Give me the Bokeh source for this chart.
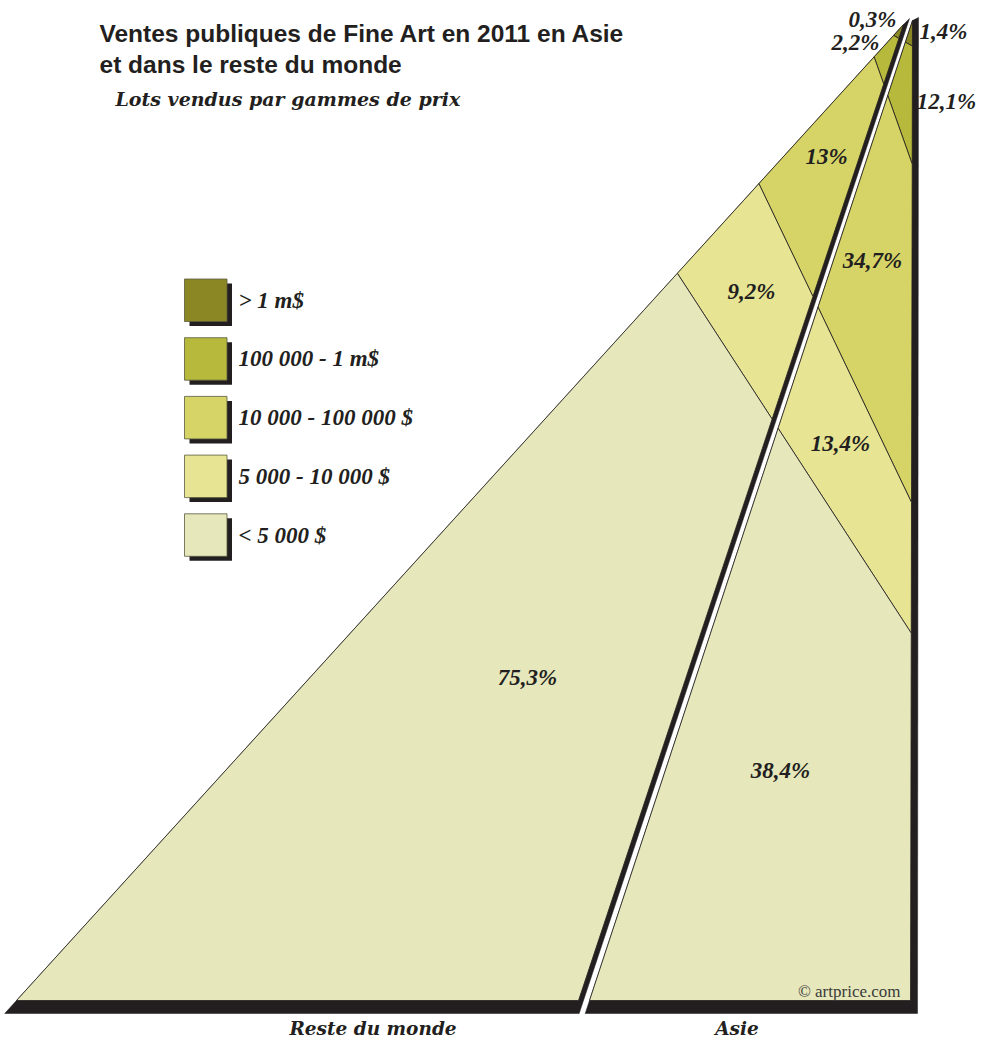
from bokeh.plotting import figure
from bokeh.models import Range1d, ColumnDataSource
from bokeh.core.properties import value
from bokeh.embed import file_html
from bokeh.resources import INLINE

# ---------------- data ----------------
categories = ["> 1 m$", "100 000 - 1 m$", "10 000 - 100 000 $", "5 000 - 10 000 $", "< 5 000 $"]
reste_du_monde = [0.3, 2.2, 13.0, 9.2, 75.3]   # % of lots sold
asie = [1.4, 12.1, 34.7, 13.4, 38.4]            # % of lots sold
group_names = ["Reste du monde", "Asie"]
title_lines = ["Ventes publiques de Fine Art en 2011 en Asie", "et dans le reste du monde"]
subtitle = "Lots vendus par gammes de prix"
credit = "\u00a9 artprice.com"

# ---------------- style / layout ----------------
colors = ["#8b8725", "#b6b93c", "#d6d466", "#e7e593", "#e6e8bc"]
INK = "#231f20"
W, H = 982, 1039
LEFT_TRI = [(16, 1000), (578, 1000), (903, 24)]     # bottom-left, bottom-right, apex
ASIA_TRI = [(589, 1000), (910, 1000), (912, 20)]
SCALE_TOP, SCALE_BOTTOM = 32, 1007                   # cumulative share 0..1 -> edge height
SHADOW_BOTTOM = 1013
RDM_LABEL_POS = [(872, 19), (855, 42), (826, 156), (751, 291), (527, 677)]
ASIE_LABEL_POS = [(943, 31), (946, 101), (872, 260), (840, 443), (780, 770)]
LEG_X, LEG_Y0, LEG_DY, LEG_SIZE = 184, 278.5, 58.7, 42.5


def x_on(p, q, y):
    return p[0] + (y - p[1]) * (q[0] - p[0]) / (q[1] - p[1])


def clip(poly, line, keep_below):
    (x1, y1), (x2, y2) = line

    def g(pt):
        ly = y1 + (pt[0] - x1) * (y2 - y1) / (x2 - x1)
        d = pt[1] - ly
        return d if keep_below else -d

    out = []
    n = len(poly)
    for i in range(n):
        a, b = poly[i], poly[(i + 1) % n]
        ga, gb = g(a), g(b)
        if ga >= 0:
            out.append(a)
        if (ga >= 0) != (gb >= 0):
            t = ga / (ga - gb)
            out.append((a[0] + t * (b[0] - a[0]), a[1] + t * (b[1] - a[1])))
    return out


def fmt(v):
    s = f"{v:.1f}".replace(".", ",")
    if s.endswith(",0"):
        s = s[:-2]
    return s + "%"


# divider lines: from the left edge of the "rest of world" triangle (its cumulative share)
# to the right edge of the "Asia" triangle (its cumulative share)
lbl, lbr, lap = LEFT_TRI
abl, abr, aap = ASIA_TRI
lines = []
for i in range(len(categories) - 1):
    cl = sum(reste_du_monde[: i + 1]) / 100.0
    ca = sum(asie[: i + 1]) / 100.0
    yl = SCALE_TOP + cl * (SCALE_BOTTOM - SCALE_TOP)
    ya = SCALE_TOP + ca * (SCALE_BOTTOM - SCALE_TOP)
    lines.append(((x_on(lap, lbl, yl), yl), (x_on(aap, abr, ya), ya)))


def regions(tri):
    polys = []
    for i in range(len(categories)):
        poly = list(tri)
        if i > 0:
            poly = clip(poly, lines[i - 1], True)
        if i < len(categories) - 1:
            poly = clip(poly, lines[i], False)
        polys.append(poly)
    return polys


p = figure(width=W, height=H, x_range=Range1d(0, W), y_range=Range1d(H, 0),
           output_backend="svg", toolbar_location=None, min_border=0,
           x_axis_location=None, y_axis_location=None)
p.grid.visible = False
p.outline_line_color = None
p.background_fill_color = "white"
p.border_fill_color = "white"

# shadows
left_shadow = [(x_on(lap, lbl, SHADOW_BOTTOM), SHADOW_BOTTOM),
               (x_on(lap, lbr, SHADOW_BOTTOM) + 5, SHADOW_BOTTOM),
               (lap[0] + 6, lap[1] - 6), lap]
asia_shadow = [(x_on(aap, abl, SHADOW_BOTTOM), SHADOW_BOTTOM),
               (abr[0] + 7, SHADOW_BOTTOM),
               (aap[0] + 6, aap[1] - 3), aap]

for shadow, tri in [(left_shadow, LEFT_TRI), (asia_shadow, ASIA_TRI)]:
    p.patch([pt[0] for pt in shadow], [pt[1] for pt in shadow], fill_color=INK, line_color=INK, line_width=0.5)
    polys = regions(tri)
    src = ColumnDataSource(dict(xs=[[pt[0] for pt in pl] for pl in polys],
                                ys=[[pt[1] for pt in pl] for pl in polys],
                                c=colors))
    p.patches("xs", "ys", source=src, fill_color="c", line_color=INK, line_width=0.8)

# percentage labels
lab = ColumnDataSource(dict(
    x=[q[0] for q in RDM_LABEL_POS] + [q[0] for q in ASIE_LABEL_POS],
    y=[q[1] for q in RDM_LABEL_POS] + [q[1] for q in ASIE_LABEL_POS],
    t=[fmt(v) for v in reste_du_monde] + [fmt(v) for v in asie]))
p.text("x", "y", text="t", source=lab, text_align="center", text_baseline="middle",
       text_font=value("Liberation Serif"), text_font_style="bold italic",
       text_font_size="23px", text_color=INK)

# legend
leg_top = [LEG_Y0 + i * LEG_DY for i in range(len(categories))]
p.quad(left=LEG_X + 5, right=LEG_X + LEG_SIZE + 5,
       top=[t + 4.5 for t in leg_top], bottom=[t + LEG_SIZE + 4.5 for t in leg_top],
       fill_color=INK, line_color=None)
p.quad(left=LEG_X, right=LEG_X + LEG_SIZE, top=leg_top, bottom=[t + LEG_SIZE for t in leg_top],
       fill_color=colors, line_color="#5a5a40", line_width=0.8)
p.text(x=[LEG_X + 54] * len(categories), y=[t + LEG_SIZE / 2 for t in leg_top], text=categories,
       text_align="left", text_baseline="middle",
       text_font=value("Liberation Serif"), text_font_style="bold italic",
       text_font_size="23px", text_color=INK)

# titles
p.text(x=[99, 99], y=[33, 64], text=title_lines, text_align="left", text_baseline="middle",
       text_font=value("Liberation Sans"), text_font_style="bold", text_font_size="24.5px",
       text_color=INK)
p.text(x=[115], y=[98], text=[subtitle], text_align="left", text_baseline="middle",
       text_font=value("DejaVu Serif"), text_font_style="bold italic", text_font_size="19px",
       text_color=INK)

# group labels
p.text(x=[372.5, 736.5], y=[1028, 1028], text=group_names, text_align="center",
       text_baseline="middle", text_font=value("DejaVu Serif"), text_font_style="bold italic",
       text_font_size="18.5px", text_color=INK)

# credit
p.text(x=[900], y=[991], text=[credit], text_align="right", text_baseline="middle",
       text_font=value("Liberation Serif"), text_font_size="17px", text_color="#3a3a3a")

open("out.html", "w").write(file_html(p, INLINE))
